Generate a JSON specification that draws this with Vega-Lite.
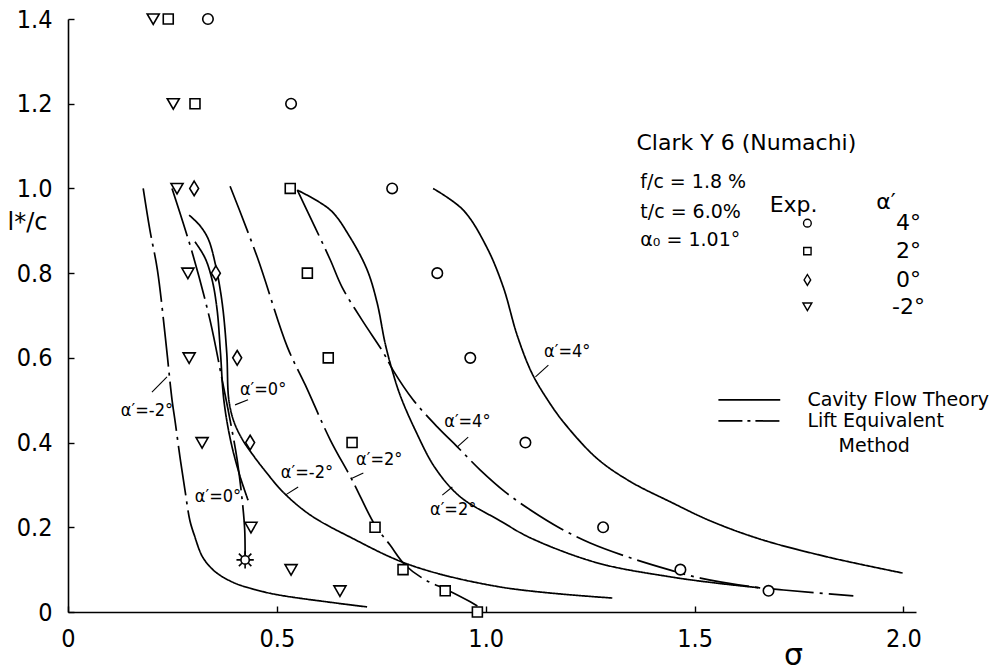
{
  "$schema": "https://vega.github.io/schema/vega-lite/v6.json",
  "width": 848,
  "height": 593,
  "autosize": {"type": "none"},
  "padding": {"left": 68, "top": 19, "right": 88, "bottom": 58},
  "background": "white",
  "config": {
    "view": {"stroke": null},
    "font": "DejaVu Sans",
    "axis": {
      "grid": false,
      "domainColor": "black",
      "domainWidth": 1.6,
      "tickColor": "black",
      "tickWidth": 1.4,
      "labelColor": "black",
      "labelFont": "'DejaVu Sans Condensed', 'DejaVu Sans'",
      "labelFontSize": 25,
      "labelFlush": false,
      "labelOverlap": false,
      "titleColor": "black",
      "titleFontWeight": "normal",
      "titleFont": "DejaVu Sans"
    }
  },
  "datasets": {
    "curves": [
      {"c": "A1", "m": "LE", "o": 1, "s": 0.180, "l": 1.0},
      {"c": "A1", "m": "LE", "o": 2, "s": 0.196, "l": 0.902},
      {"c": "A1", "m": "LE", "o": 3, "s": 0.214, "l": 0.808},
      {"c": "A1", "m": "LE", "o": 4, "s": 0.233, "l": 0.649},
      {"c": "A1", "m": "LE", "o": 5, "s": 0.249, "l": 0.501},
      {"c": "A1", "m": "LE", "o": 6, "s": 0.257, "l": 0.446},
      {"c": "A1", "m": "LE", "o": 7, "s": 0.268, "l": 0.366},
      {"c": "A1", "m": "LE", "o": 8, "s": 0.280, "l": 0.288},
      {"c": "A1", "m": "LE", "o": 9, "s": 0.292, "l": 0.215},
      {"c": "A1", "m": "LE", "o": 10, "s": 0.304, "l": 0.177},
      {"c": "A2", "m": "CF", "o": 1, "s": 0.304, "l": 0.177},
      {"c": "A2", "m": "CF", "o": 2, "s": 0.321, "l": 0.132},
      {"c": "A2", "m": "CF", "o": 3, "s": 0.350, "l": 0.097},
      {"c": "A2", "m": "CF", "o": 4, "s": 0.395, "l": 0.070},
      {"c": "A2", "m": "CF", "o": 5, "s": 0.440, "l": 0.055},
      {"c": "A2", "m": "CF", "o": 6, "s": 0.500, "l": 0.041},
      {"c": "A2", "m": "CF", "o": 7, "s": 0.635, "l": 0.022},
      {"c": "A2", "m": "CF", "o": 8, "s": 0.716, "l": 0.012},
      {"c": "LE0", "m": "LE", "o": 1, "s": 0.249, "l": 1.0},
      {"c": "LE0", "m": "LE", "o": 2, "s": 0.297, "l": 0.850},
      {"c": "LE0", "m": "LE", "o": 3, "s": 0.340, "l": 0.689},
      {"c": "LE0", "m": "LE", "o": 4, "s": 0.369, "l": 0.548},
      {"c": "LE0", "m": "LE", "o": 5, "s": 0.388, "l": 0.453},
      {"c": "LE0", "m": "LE", "o": 6, "s": 0.405, "l": 0.359},
      {"c": "LE0", "m": "LE", "o": 7, "s": 0.417, "l": 0.264},
      {"c": "LE0", "m": "LE", "o": 8, "s": 0.423, "l": 0.194},
      {"c": "LE0", "m": "LE", "o": 9, "s": 0.424, "l": 0.128},
      {"c": "CF0", "m": "CF", "o": 1, "s": 0.304, "l": 0.874},
      {"c": "CF0", "m": "CF", "o": 2, "s": 0.328, "l": 0.836},
      {"c": "CF0", "m": "CF", "o": 3, "s": 0.345, "l": 0.784},
      {"c": "CF0", "m": "CF", "o": 4, "s": 0.357, "l": 0.713},
      {"c": "CF0", "m": "CF", "o": 5, "s": 0.365, "l": 0.612},
      {"c": "CF0", "m": "CF", "o": 6, "s": 0.373, "l": 0.501},
      {"c": "CF0", "m": "CF", "o": 7, "s": 0.389, "l": 0.406},
      {"c": "CF0", "m": "CF", "o": 8, "s": 0.411, "l": 0.323},
      {"c": "CF0", "m": "CF", "o": 9, "s": 0.431, "l": 0.264},
      {"c": "CFm2", "m": "CF", "o": 1, "s": 0.290, "l": 0.937},
      {"c": "CFm2", "m": "CF", "o": 2, "s": 0.316, "l": 0.912},
      {"c": "CFm2", "m": "CF", "o": 3, "s": 0.336, "l": 0.880},
      {"c": "CFm2", "m": "CF", "o": 4, "s": 0.353, "l": 0.820},
      {"c": "CFm2", "m": "CF", "o": 5, "s": 0.369, "l": 0.730},
      {"c": "CFm2", "m": "CF", "o": 6, "s": 0.380, "l": 0.612},
      {"c": "CFm2", "m": "CF", "o": 7, "s": 0.385, "l": 0.501},
      {"c": "CFm2", "m": "CF", "o": 8, "s": 0.397, "l": 0.450},
      {"c": "CFm2", "m": "CF", "o": 9, "s": 0.417, "l": 0.408},
      {"c": "CFm2", "m": "CF", "o": 10, "s": 0.441, "l": 0.373},
      {"c": "CFm2", "m": "CF", "o": 11, "s": 0.472, "l": 0.333},
      {"c": "CFm2", "m": "CF", "o": 12, "s": 0.515, "l": 0.283},
      {"c": "CFm2", "m": "CF", "o": 13, "s": 0.580, "l": 0.229},
      {"c": "CFm2", "m": "CF", "o": 14, "s": 0.675, "l": 0.177},
      {"c": "CFm2", "m": "CF", "o": 15, "s": 0.819, "l": 0.111},
      {"c": "CFm2", "m": "CF", "o": 16, "s": 1.035, "l": 0.059},
      {"c": "CFm2", "m": "CF", "o": 17, "s": 1.303, "l": 0.033},
      {"c": "LE2", "m": "LE", "o": 1, "s": 0.388, "l": 1.005},
      {"c": "LE2", "m": "LE", "o": 2, "s": 0.453, "l": 0.838},
      {"c": "LE2", "m": "LE", "o": 3, "s": 0.525, "l": 0.626},
      {"c": "LE2", "m": "LE", "o": 4, "s": 0.568, "l": 0.536},
      {"c": "LE2", "m": "LE", "o": 5, "s": 0.628, "l": 0.406},
      {"c": "LE2", "m": "LE", "o": 6, "s": 0.680, "l": 0.312},
      {"c": "LE2", "m": "LE", "o": 7, "s": 0.735, "l": 0.205},
      {"c": "LE2", "m": "LE", "o": 8, "s": 0.771, "l": 0.158},
      {"c": "LE2", "m": "LE", "o": 9, "s": 0.807, "l": 0.111},
      {"c": "LE2", "m": "LE", "o": 10, "s": 0.855, "l": 0.076},
      {"c": "LE2", "m": "LE", "o": 11, "s": 0.908, "l": 0.052},
      {"c": "LE2", "m": "LE", "o": 12, "s": 0.963, "l": 0.024},
      {"c": "LE2", "m": "LE", "o": 13, "s": 0.980, "l": 0.014},
      {"c": "CF2", "m": "CF", "o": 1, "s": 0.549, "l": 0.996},
      {"c": "CF2", "m": "CF", "o": 2, "s": 0.628, "l": 0.949},
      {"c": "CF2", "m": "CF", "o": 3, "s": 0.675, "l": 0.885},
      {"c": "CF2", "m": "CF", "o": 4, "s": 0.716, "l": 0.808},
      {"c": "CF2", "m": "CF", "o": 5, "s": 0.740, "l": 0.730},
      {"c": "CF2", "m": "CF", "o": 6, "s": 0.759, "l": 0.635},
      {"c": "CF2", "m": "CF", "o": 7, "s": 0.776, "l": 0.571},
      {"c": "CF2", "m": "CF", "o": 8, "s": 0.795, "l": 0.512},
      {"c": "CF2", "m": "CF", "o": 9, "s": 0.831, "l": 0.430},
      {"c": "CF2", "m": "CF", "o": 10, "s": 0.879, "l": 0.340},
      {"c": "CF2", "m": "CF", "o": 11, "s": 0.939, "l": 0.272},
      {"c": "CF2", "m": "CF", "o": 12, "s": 1.035, "l": 0.215},
      {"c": "CF2", "m": "CF", "o": 13, "s": 1.107, "l": 0.175},
      {"c": "CF2", "m": "CF", "o": 14, "s": 1.267, "l": 0.116},
      {"c": "CF2", "m": "CF", "o": 15, "s": 1.442, "l": 0.083},
      {"c": "CF2", "m": "CF", "o": 16, "s": 1.554, "l": 0.068},
      {"c": "CF2", "m": "CF", "o": 17, "s": 1.657, "l": 0.057},
      {"c": "LE4", "m": "LE", "o": 1, "s": 0.549, "l": 0.996},
      {"c": "LE4", "m": "LE", "o": 2, "s": 0.592, "l": 0.907},
      {"c": "LE4", "m": "LE", "o": 3, "s": 0.628, "l": 0.831},
      {"c": "LE4", "m": "LE", "o": 4, "s": 0.656, "l": 0.767},
      {"c": "LE4", "m": "LE", "o": 5, "s": 0.704, "l": 0.689},
      {"c": "LE4", "m": "LE", "o": 6, "s": 0.754, "l": 0.614},
      {"c": "LE4", "m": "LE", "o": 7, "s": 0.778, "l": 0.571},
      {"c": "LE4", "m": "LE", "o": 8, "s": 0.826, "l": 0.501},
      {"c": "LE4", "m": "LE", "o": 9, "s": 0.884, "l": 0.437},
      {"c": "LE4", "m": "LE", "o": 10, "s": 0.932, "l": 0.390},
      {"c": "LE4", "m": "LE", "o": 11, "s": 0.987, "l": 0.335},
      {"c": "LE4", "m": "LE", "o": 12, "s": 1.047, "l": 0.283},
      {"c": "LE4", "m": "LE", "o": 13, "s": 1.107, "l": 0.241},
      {"c": "LE4", "m": "LE", "o": 14, "s": 1.178, "l": 0.198},
      {"c": "LE4", "m": "LE", "o": 15, "s": 1.250, "l": 0.163},
      {"c": "LE4", "m": "LE", "o": 16, "s": 1.346, "l": 0.128},
      {"c": "LE4", "m": "LE", "o": 17, "s": 1.442, "l": 0.099},
      {"c": "LE4", "m": "LE", "o": 18, "s": 1.514, "l": 0.080},
      {"c": "LE4", "m": "LE", "o": 19, "s": 1.641, "l": 0.059},
      {"c": "LE4", "m": "LE", "o": 20, "s": 1.713, "l": 0.052},
      {"c": "LE4", "m": "LE", "o": 21, "s": 1.880, "l": 0.038},
      {"c": "CF4", "m": "CF", "o": 1, "s": 0.874, "l": 1.0},
      {"c": "CF4", "m": "CF", "o": 2, "s": 0.946, "l": 0.949},
      {"c": "CF4", "m": "CF", "o": 3, "s": 1.002, "l": 0.862},
      {"c": "CF4", "m": "CF", "o": 4, "s": 1.042, "l": 0.767},
      {"c": "CF4", "m": "CF", "o": 5, "s": 1.075, "l": 0.654},
      {"c": "CF4", "m": "CF", "o": 6, "s": 1.110, "l": 0.565},
      {"c": "CF4", "m": "CF", "o": 7, "s": 1.148, "l": 0.501},
      {"c": "CF4", "m": "CF", "o": 8, "s": 1.188, "l": 0.446},
      {"c": "CF4", "m": "CF", "o": 9, "s": 1.267, "l": 0.362},
      {"c": "CF4", "m": "CF", "o": 10, "s": 1.346, "l": 0.308},
      {"c": "CF4", "m": "CF", "o": 11, "s": 1.442, "l": 0.260},
      {"c": "CF4", "m": "CF", "o": 12, "s": 1.538, "l": 0.215},
      {"c": "CF4", "m": "CF", "o": 13, "s": 1.657, "l": 0.172},
      {"c": "CF4", "m": "CF", "o": 14, "s": 1.818, "l": 0.130},
      {"c": "CF4", "m": "CF", "o": 15, "s": 1.998, "l": 0.092},
      {"c": "legCF", "m": "CF", "o": 1, "s": 1.557, "l": 0.501},
      {"c": "legCF", "m": "CF", "o": 2, "s": 1.705, "l": 0.501},
      {"c": "legLE", "m": "LEleg", "o": 1, "s": 1.557, "l": 0.451},
      {"c": "legLE", "m": "LEleg", "o": 2, "s": 1.705, "l": 0.451}
    ],
    "points": [
      {"a": "4°", "s": 0.335, "l": 1.4},
      {"a": "4°", "s": 0.534, "l": 1.2},
      {"a": "4°", "s": 0.776, "l": 1.0},
      {"a": "4°", "s": 0.884, "l": 0.8},
      {"a": "4°", "s": 0.963, "l": 0.6},
      {"a": "4°", "s": 1.095, "l": 0.4},
      {"a": "4°", "s": 1.281, "l": 0.2},
      {"a": "4°", "s": 1.466, "l": 0.1},
      {"a": "4°", "s": 1.677, "l": 0.05},
      {"a": "2°", "s": 0.240, "l": 1.4},
      {"a": "2°", "s": 0.304, "l": 1.2},
      {"a": "2°", "s": 0.532, "l": 1.0},
      {"a": "2°", "s": 0.573, "l": 0.8},
      {"a": "2°", "s": 0.623, "l": 0.6},
      {"a": "2°", "s": 0.680, "l": 0.4},
      {"a": "2°", "s": 0.735, "l": 0.2},
      {"a": "2°", "s": 0.802, "l": 0.1},
      {"a": "2°", "s": 0.903, "l": 0.05},
      {"a": "2°", "s": 0.980, "l": 0.0},
      {"a": "0°", "s": 0.302, "l": 1.0},
      {"a": "0°", "s": 0.354, "l": 0.8},
      {"a": "0°", "s": 0.405, "l": 0.6},
      {"a": "0°", "s": 0.436, "l": 0.4},
      {"a": "-2°", "s": 0.204, "l": 1.4},
      {"a": "-2°", "s": 0.252, "l": 1.2},
      {"a": "-2°", "s": 0.261, "l": 1.0},
      {"a": "-2°", "s": 0.287, "l": 0.8},
      {"a": "-2°", "s": 0.290, "l": 0.6},
      {"a": "-2°", "s": 0.321, "l": 0.4},
      {"a": "-2°", "s": 0.438, "l": 0.2},
      {"a": "-2°", "s": 0.534, "l": 0.1},
      {"a": "-2°", "s": 0.651, "l": 0.05}
    ],
    "legendPoints": [
      {"a": "4°", "s": 1.770, "l": 0.918},
      {"a": "2°", "s": 1.770, "l": 0.852},
      {"a": "0°", "s": 1.770, "l": 0.784},
      {"a": "-2°", "s": 1.770, "l": 0.721}
    ],
    "star": [{"s": 0.424, "l": 0.123}],
    "curveLabels": [
      {"t": "α′=-2°", "s": 0.189, "l": 0.475},
      {"t": "α′=0°", "s": 0.467, "l": 0.523},
      {"t": "α′=0°", "s": 0.359, "l": 0.272},
      {"t": "α′=-2°", "s": 0.572, "l": 0.328},
      {"t": "α′=2°", "s": 0.745, "l": 0.359},
      {"t": "α′=4°", "s": 0.956, "l": 0.449},
      {"t": "α′=2°", "s": 0.922, "l": 0.241},
      {"t": "α′=4°", "s": 1.195, "l": 0.614}
    ],
    "arrows": [
      {"s": 0.201, "l": 0.519, "s2": 0.237, "l2": 0.555},
      {"s": 0.431, "l": 0.501, "s2": 0.400, "l2": 0.489},
      {"s": 0.551, "l": 0.295, "s2": 0.520, "l2": 0.276},
      {"s": 0.707, "l": 0.328, "s2": 0.680, "l2": 0.316},
      {"s": 0.958, "l": 0.413, "s2": 0.932, "l2": 0.390},
      {"s": 0.896, "l": 0.276, "s2": 0.920, "l2": 0.295},
      {"s": 1.150, "l": 0.583, "s2": 1.119, "l2": 0.555}
    ],
    "leftText": [
      {"t": "f/c = 1.8 %", "s": 1.370, "l": 1.015},
      {"t": "t/c =  6.0%", "s": 1.370, "l": 0.945},
      {"t": "α₀ = 1.01°", "s": 1.370, "l": 0.878},
      {"t": "Cavity Flow Theory", "s": 1.770, "l": 0.501},
      {"t": "Lift Equivalent", "s": 1.770, "l": 0.451}
    ],
    "bigText": [
      {"t": "Exp.", "s": 1.737, "l": 0.962, "al": "left"},
      {"t": "α′", "s": 1.958, "l": 0.968, "al": "left"},
      {"t": "4°", "s": 2.012, "l": 0.918, "al": "right"},
      {"t": "2°", "s": 2.012, "l": 0.852, "al": "right"},
      {"t": "0°", "s": 2.012, "l": 0.784, "al": "right"},
      {"t": "-2°", "s": 2.012, "l": 0.719, "al": "right"}
    ],
    "centerText": [
      {"t": "Clark  Y  6  (Numachi)", "s": 1.624, "l": 1.107, "f": 22},
      {"t": "Method", "s": 1.930, "l": 0.392, "f": 19}
    ]
  },
  "encoding": {
    "x": {
      "field": "s", "type": "quantitative",
      "scale": {"domain": [0, 2.03], "nice": false, "zero": false},
      "axis": {
        "values": [0, 0.5, 1, 1.5, 2],
        "labelExpr": "datum.value == 0 ? '0' : format(datum.value, '.1f')",
        "tickSize": -6,
        "labelPadding": 20,
        "title": "σ",
        "titleFontSize": 30,
        "titleAngle": 0,
        "titleAlign": "center",
        "titleBaseline": "middle",
        "titleX": 725,
        "titleY": 43
      }
    },
    "y": {
      "field": "l", "type": "quantitative",
      "scale": {"domain": [0, 1.4], "nice": false, "zero": false},
      "axis": {
        "values": [0, 0.2, 0.4, 0.6, 0.8, 1.0, 1.2, 1.4],
        "labelExpr": "datum.value == 0 ? '0' : format(datum.value, '.1f')",
        "tickSize": -6,
        "labelPadding": 22,
        "title": "l*/c",
        "titleFontSize": 24,
        "titleAngle": 0,
        "titleAlign": "center",
        "titleBaseline": "middle",
        "titleX": -41,
        "titleY": 203
      }
    }
  },
  "layer": [
    {
      "data": {"name": "curves"},
      "mark": {"type": "line", "color": "black", "strokeWidth": 1.7, "interpolate": "catmull-rom"},
      "encoding": {
        "detail": {"field": "c", "type": "nominal"},
        "order": {"field": "o", "type": "quantitative"},
        "strokeDash": {
          "field": "m", "type": "nominal",
          "scale": {"domain": ["CF", "LE", "LEleg"], "range": [[1, 0], [50, 6, 3, 6], [24, 5, 3, 5]]},
          "legend": null
        }
      }
    },
    {
      "data": {"name": "arrows"},
      "mark": {"type": "rule", "color": "black", "strokeWidth": 1.1},
      "encoding": {
        "x2": {"field": "s2"},
        "y2": {"field": "l2"}
      }
    },
    {
      "data": {"name": "points"},
      "mark": {"type": "point", "filled": true, "fill": "white", "stroke": "black", "strokeWidth": 1.6, "size": 110, "opacity": 1},
      "encoding": {
        "shape": {
          "field": "a", "type": "nominal",
          "scale": {"domain": ["4°", "2°", "0°", "-2°"], "range": ["circle", "M-0.95,-0.95H0.95V0.95H-0.95Z", "M0,-1.4L0.85,0L0,1.4L-0.85,0Z", "M-1.15,-0.95L1.15,-0.95L0,1.05Z"]},
          "legend": null
        }
      }
    },
    {
      "data": {"name": "legendPoints"},
      "mark": {"type": "point", "filled": true, "fill": "white", "stroke": "black", "strokeWidth": 1.4, "size": 60, "opacity": 1},
      "encoding": {
        "shape": {"field": "a", "type": "nominal", "legend": null}
      }
    },
    {
      "data": {"name": "star"},
      "mark": {"type": "point", "shape": "M0,-1V-0.5M0,0.5V1M-1,0H-0.5M0.5,0H1M-0.72,-0.72L-0.38,-0.38M0.38,0.38L0.72,0.72M-0.72,0.72L-0.38,0.38M0.38,-0.38L0.72,-0.72", "filled": false, "stroke": "black", "strokeWidth": 1.6, "size": 300, "opacity": 1}
    },
    {
      "data": {"name": "star"},
      "mark": {"type": "point", "shape": "circle", "filled": true, "fill": "white", "stroke": "black", "strokeWidth": 1.6, "size": 70, "opacity": 1}
    },
    {
      "data": {"name": "curveLabels"},
      "mark": {"type": "text", "font": "'DejaVu Sans Condensed', 'DejaVu Sans'", "fontSize": 18, "color": "black", "align": "center", "baseline": "middle"},
      "encoding": {"text": {"field": "t"}}
    },
    {
      "data": {"name": "leftText"},
      "mark": {"type": "text", "font": "DejaVu Sans", "fontSize": 19, "color": "black", "align": "left", "baseline": "middle"},
      "encoding": {"text": {"field": "t"}}
    },
    {
      "data": {"name": "bigText"},
      "mark": {"type": "text", "font": "DejaVu Sans", "fontSize": 22, "color": "black", "baseline": "middle"},
      "encoding": {
        "text": {"field": "t"},
        "align": {"field": "al", "type": "nominal", "scale": null}
      }
    },
    {
      "data": {"name": "centerText"},
      "mark": {"type": "text", "font": "DejaVu Sans", "color": "black", "align": "center", "baseline": "middle"},
      "encoding": {
        "text": {"field": "t"},
        "size": {"field": "f", "type": "quantitative", "scale": null}
      }
    }
  ]
}
